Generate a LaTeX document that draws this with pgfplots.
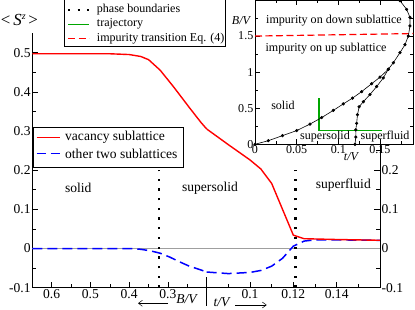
\documentclass[border=0pt]{standalone}
\usepackage{fontspec}
\setmainfont{Liberation Serif}
\usepackage{pgfplots}
\pgfplotsset{compat=1.18}
\usetikzlibrary{arrows.meta}
\definecolor{myred}{rgb}{1,0,0}
\definecolor{myblue}{rgb}{0,0,1}
\definecolor{mygreen}{rgb}{0,0.65,0}
\newcommand{\mfont}{\fontsize{13.6}{16}\selectfont}
\newcommand{\ifont}{\fontsize{12.1}{14}\selectfont}
\begin{document}
\begin{tikzpicture}
\path[use as bounding box] (0bp,0bp) rectangle (415bp,310bp);
\pgfplotsset{
  mainstyle/.style={
    scale only axis, height=254.7bp, ymin=-0.1, ymax=0.55,
    tick align=inside, major tick length=6bp, minor tick length=3.5bp,
    every tick/.style={black, line width=0.5bp},
    axis line style={black, line width=0.6bp},
    ytick={-0.1,0,0.1,0.2,0.3,0.4,0.5},
    yticklabels={-0.1,0,0.1,0.2,0.3,0.4,0.5},
    minor ytick={-0.05,0.05,0.15,0.25,0.35,0.45},
    tick label style={font=\mfont},
    xticklabel style={inner sep=1.5bp},
    yticklabel style={inner sep=1.5bp},
    clip=false,
  }
}
% left part: B/V decreasing
\begin{axis}[mainstyle, at={(32.3bp,22.3bp)}, anchor=south west, width=174.4bp,
  xmin=0.2, xmax=0.65, x dir=reverse,
  axis x line*=bottom, axis y line*=left,
  xtick={0.3,0.4,0.5,0.6}, xticklabels={0.3,0.4,0.5,0.6},
  minor xtick={0.25,0.35,0.45,0.55}]
\addplot[gray!75, line width=0.8bp] coordinates {(0.65,0)(0.2,0)};
\addplot[black, line width=2.3bp, dash pattern=on 2.3bp off 7.4bp] coordinates {(0.323,-0.1)(0.323,0.2)};
\addplot[myblue, line width=1.5bp, dash pattern=on 10bp off 5bp] coordinates {
(0.65,0)(0.55,0)(0.45,0)(0.40,0)(0.37,-0.002)(0.345,-0.006)(0.32,-0.012)(0.295,-0.022)(0.27,-0.034)(0.245,-0.045)(0.22,-0.053)(0.2,-0.06)};
\addplot[myred, line width=1.4bp] coordinates {
(0.65,0.497)(0.55,0.497)(0.45,0.497)(0.40,0.495)(0.37,0.490)(0.35,0.482)(0.32,0.455)(0.285,0.412)(0.245,0.36)(0.215,0.322)(0.2,0.305)};
\end{axis}
% right part: t/V increasing
\begin{axis}[mainstyle, at={(206.7bp,22.3bp)}, anchor=south west, width=173.3bp,
  xmin=0.08, xmax=0.16,
  axis x line*=bottom, axis y line*=right,
  xtick={0.1,0.12,0.14}, xticklabels={0.1,0.12,0.14},
  minor xtick={0.09,0.11,0.13,0.15}]
\addplot[gray!75, line width=0.8bp] coordinates {(0.08,0)(0.16,0)};
\addplot[black, line width=2.3bp, dash pattern=on 2.3bp off 7.4bp] coordinates {(0.121,-0.1)(0.121,0.2)};
\addplot[myblue, line width=1.5bp, dash pattern=on 10bp off 5bp] coordinates {
(0.08,-0.06)(0.09,-0.064)(0.1,-0.061)(0.105,-0.056)(0.11,-0.045)(0.115,-0.025)(0.12,0.006)(0.125,0.019)(0.13,0.022)(0.14,0.022)(0.16,0.021)};
\addplot[myred, line width=1.4bp] coordinates {
(0.08,0.305)(0.09,0.265)(0.1,0.226)(0.105,0.203)(0.11,0.166)(0.12,0.034)(0.125,0.025)(0.14,0.023)(0.16,0.021)};
\draw[black, line width=0.6bp] (axis cs:0.08,-0.073) -- (axis cs:0.08,-0.147);
\end{axis}
% inset
\begin{axis}[scale only axis, at={(255bp,165.7bp)}, anchor=south west, width=158.3bp, height=144.3bp,
  xmin=0, xmax=0.19, ymin=0, ymax=2,
  axis background/.style={fill=white},
  tick align=inside, major tick length=5bp, minor tick length=3bp,
  every tick/.style={black, line width=0.5bp},
  axis line style={black, line width=0.6bp},
  xtick={0,0.05,0.1,0.15}, xticklabels={0,0.05,0.1,0.15}, minor xtick={0.025,0.075,0.125,0.175},
  ytick={0,0.5,1,1.5}, yticklabels={0,0.5,1,1.5}, minor ytick={0.25,0.75,1.25,1.75},
  tick label style={font=\ifont}, xticklabel style={inner sep=1bp}, yticklabel style={inner sep=1.5bp}]
\addplot[draw=mygreen, line width=1.4bp] coordinates {(0.077,0.64)(0.077,0.19)(0.153,0.19)};
\addplot[draw=myred, line width=1.2bp, dash pattern=on 7bp off 3.5bp] coordinates {(0,1.50)(0.19,1.535)};
\addplot[black, line width=0.6bp, mark=*, mark size=1.3bp] coordinates {
(0,0)(0.016,0.05)(0.033,0.12)(0.050,0.19)(0.066,0.28)(0.080,0.37)(0.094,0.47)(0.106,0.56)(0.117,0.64)(0.128,0.73)(0.140,0.84)(0.150,0.93)(0.160,1.04)(0.166,1.13)(0.174,1.27)(0.180,1.38)(0.184,1.50)(0.186,1.64)(0.186,1.76)(0.182,1.87)(0.174,1.99)(0.170,2.03)};
\addplot[black, line width=0.6bp, mark=*, mark size=1.3bp] coordinates {
(0.120,0)(0.121,0.1)(0.121,0.2)(0.122,0.29)(0.123,0.41)(0.125,0.52)(0.130,0.59)(0.138,0.69)(0.146,0.80)(0.154,0.92)(0.160,1.04)};
\end{axis}
% main legend
\draw[black, line width=0.5bp, fill=white] (33bp,143bp) rectangle (183bp,182.3bp);
\draw[myred, line width=1.4bp] (36.7bp,172.3bp) -- (60bp,172.3bp);
\node[font=\mfont, anchor=west, inner sep=0pt] at (65bp,172.3bp) {vacancy sublattice};
\draw[myblue, line width=1.5bp, dash pattern=on 9bp off 5bp] (36.7bp,156.3bp) -- (60bp,156.3bp);
\node[font=\mfont, anchor=west, inner sep=0pt] at (65bp,156.3bp) {other two sublattices};
% inset legend
\draw[black, line width=0.5bp, fill=white] (64bp,263.3bp) rectangle (225bp,310.5bp);
\draw[black, line width=2.3bp, dash pattern=on 2.3bp off 7.2bp] (68bp,300bp) -- (90bp,300bp);
\node[font=\ifont, anchor=west, inner sep=0pt] at (96.7bp,300bp) {phase boundaries};
\draw[mygreen, line width=1.4bp] (68bp,285.7bp) -- (89bp,285.7bp);
\node[font=\ifont, anchor=west, inner sep=0pt] at (96.7bp,285.7bp) {trajectory};
\draw[myred, line width=1.2bp, dash pattern=on 7bp off 3.5bp] (68bp,271.7bp) -- (89bp,271.7bp);
\node[font=\ifont, anchor=west, inner sep=0pt] at (96.7bp,271.7bp) {impurity transition Eq. (4)};
% texts
\node[font=\mfont] at (78.3bp,122bp) {solid};
\node[font=\mfont] at (210bp,122bp) {supersolid};
\node[font=\mfont] at (343.3bp,125bp) {superfluid};
\node at (19.5bp,290bp) {\fontsize{17}{20}\selectfont <\,\textit{S}\raisebox{0.75ex}{\fontsize{10}{10}\selectfont\textit{z}}\,>};
\node[font=\mfont\itshape] at (186.5bp,11bp) {B/V};
\node[font=\mfont\itshape] at (221.5bp,8bp) {t/V};
\draw[-{Straight Barb[length=4bp,width=6bp]}, line width=0.5bp] (168bp,6.7bp) -- (138bp,6.7bp);
\draw[-{Straight Barb[length=4bp,width=6bp]}, line width=0.5bp] (235bp,5bp) -- (266.7bp,5bp);
\node[font=\ifont] at (334bp,289.3bp) {impurity on down sublattice};
\node[font=\ifont] at (326bp,261.7bp) {impurity on up sublattice};
\node[font=\ifont] at (283bp,205bp) {solid};
\node[font=\ifont] at (325bp,173bp) {supersolid};
\node[font=\ifont] at (385bp,173bp) {superfluid};
\node[font=\ifont\itshape] at (241bp,289bp) {B/V};
\node[font=\ifont\itshape] at (351bp,153bp) {t/V};
\end{tikzpicture}
\end{document}
